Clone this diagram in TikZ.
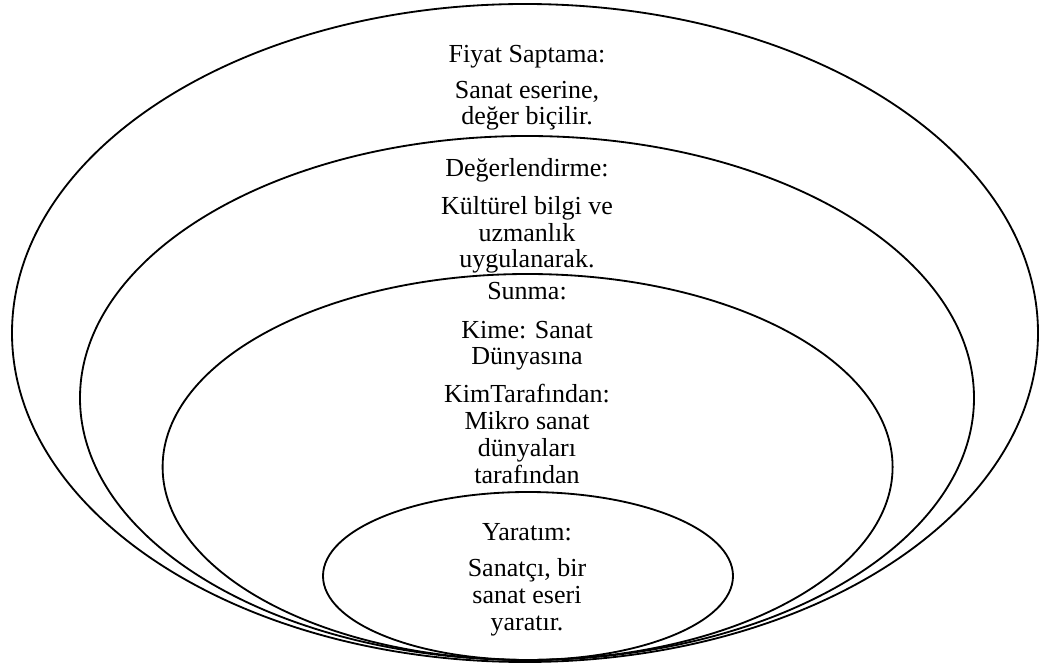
\documentclass[tikz,border=0pt]{standalone}
\usepackage{fontspec}
\setmainfont{Liberation Serif}
\usepackage{tikz}
\tikzset{
  ring/.style ={draw, line width=1.3pt},
  txt/.style  ={align=center, inner sep=0pt, anchor=base,
                font=\fontsize{18.5}{19.2}\selectfont},
}

\begin{document}
\begin{tikzpicture}
  \useasboundingbox (0,0) rectangle (26,-16.75);

  % nested rings
  \draw[ring] (13.125,-8.325) ellipse [x radius=12.825, y radius=8.225];
  \draw[ring] (13.175,-9.95)  ellipse [x radius=11.175, y radius=6.55];
  \draw[ring] (13.19,-11.675) ellipse [x radius=9.125,  y radius=4.825];
  \draw[ring] (13.2,-14.4)    ellipse [x radius=5.125,  y radius=2.1];

  % Fiyat Saptama (base = last line)
  \node[txt] (fiyat)  at (13.175,-1.575) {Fiyat Saptama:};
  \node[txt] (fiyatp) at (13.175,-3.125) {Sanat eserine,\\değer biçilir.};

  % Degerlendirme
  \node[txt] (deger)  at (13.175,-4.425) {Değerlendirme:};
  \node[txt] (degerp) at (13.175,-6.7)   {Kültürel bilgi ve\\uzmanlık\\uygulanarak.};

  % Sunma
  \node[txt] (sunma)  at (13.175,-7.5)   {Sunma:};
  \node[txt] (kime)   at (13.175,-9.125) {Kime: Sanat\\Dünyasına};
  \node[txt] (kim)    at (13.175,-12.075) {KimTarafından:\\Mikro sanat\\dünyaları\\tarafından};

  % Yaratim
  \node[txt] (yaratim)  at (13.175,-13.5)  {Yaratım:};
  \node[txt] (yaratimp) at (13.175,-15.75) {Sanatçı, bir\\sanat eseri\\yaratır.};
\end{tikzpicture}
\end{document}
